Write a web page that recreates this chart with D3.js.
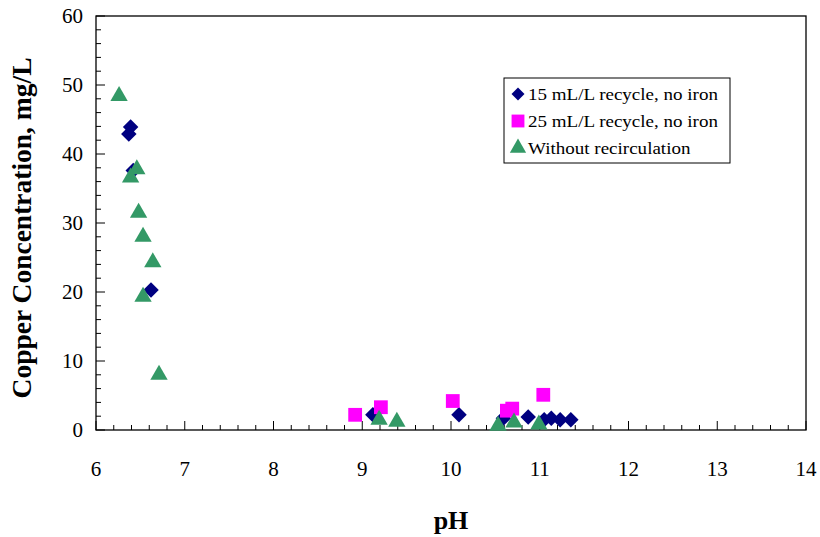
<!DOCTYPE html>
<html>
<head>
<meta charset="utf-8">
<script src="https://cdn.jsdelivr.net/npm/d3@7.9.0/dist/d3.min.js"></script>
<style>
  body { margin: 0; background: #fff; }
  svg { font-family: "Liberation Serif", "Times New Roman", serif; }
</style>
</head>
<body>
<svg width="820" height="537"></svg>
<script>
// 15 mL/L recycle, no iron
const ph15 = [6.39, 6.37, 6.42, 6.62, 9.12, 10.09, 10.59, 10.87, 11.05, 11.13, 11.23, 11.35]
const cu15 = [43.9, 42.9, 37.6, 20.3, 2.2, 2.2, 1.7, 1.9, 1.5, 1.7, 1.5, 1.5]
// 25 mL/L recycle, no iron
const ph25 = [8.92, 9.21, 10.02, 10.63, 10.69, 11.04]
const cu25 = [2.2, 3.3, 4.2, 2.8, 3.1, 5.1]
// Without recirculation
const phNo = [6.26, 6.46, 6.39, 6.48, 6.53, 6.64, 6.53, 6.71, 9.19, 9.39, 10.53, 10.71, 10.99]
const cuNo = [48.4, 37.8, 36.6, 31.5, 28.0, 24.3, 19.3, 8.0, 1.5, 1.2, 0.6, 1.1, 0.8]

const seriesNames = ['15 mL/L recycle, no iron', '25 mL/L recycle, no iron', 'Without recirculation']
const xTicks = [6, 7, 8, 9, 10, 11, 12, 13, 14]
const yTicks = [0, 10, 20, 30, 40, 50, 60]

const svg = d3.select('svg')
const margin = {left: 96, right: 14, top: 16, bottom: 107}
const W = 820, H = 537

const x = d3.scaleLinear().domain([6, 14]).range([margin.left, W - margin.right])
const y = d3.scaleLinear().domain([0, 60]).range([H - margin.bottom, margin.top])

// plot box
svg.append('rect')
    .attr('x', x(6)).attr('y', y(60))
    .attr('width', x(14) - x(6)).attr('height', y(0) - y(60))
    .attr('fill', 'none').attr('stroke', '#000').attr('stroke-width', 1.3)

// ticks point inward, major ones longer
let minorX = d3.range(6, 14.001, 0.2)
svg.append('g').selectAll('line').data(minorX).join('line')
    .attr('x1', d => x(d)).attr('x2', d => x(d))
    .attr('y1', y(0)).attr('y2', d => y(0) - (Math.abs(d - Math.round(d)) < 1e-6 ? 9 : 5))
    .attr('stroke', '#000')
let minorY = d3.range(0, 60.001, 2)
svg.append('g').selectAll('line').data(minorY).join('line')
    .attr('y1', d => y(d)).attr('y2', d => y(d))
    .attr('x1', x(6)).attr('x2', d => x(6) + (d % 10 === 0 ? 9 : 5))
    .attr('stroke', '#000')

// tick labels
svg.append('g').selectAll('text').data(xTicks).join('text')
    .attr('x', d => x(d)).attr('y', y(0) + 46)
    .attr('text-anchor', 'middle').attr('font-size', 21)
    .text(d => d)
svg.append('g').selectAll('text').data(yTicks).join('text')
    .attr('x', x(6) - 13).attr('y', d => y(d) + 7)
    .attr('text-anchor', 'end').attr('font-size', 21)
    .text(d => d)

// axis titles
svg.append('text')
    .attr('x', (x(6) + x(14)) / 2).attr('y', 529)
    .attr('text-anchor', 'middle').attr('font-size', 26).attr('font-weight', 'bold')
    .text('pH')
svg.append('text')
    .attr('transform', `translate(31,228) rotate(-90)`)
    .attr('text-anchor', 'middle').attr('font-size', 27.5).attr('font-weight', 'bold')
    .text('Copper Concentration, mg/L')

// diamond = rotated square
const diamondPath = d3.symbol(d3.symbolSquare, 120)()
const squarePath = d3.symbol(d3.symbolSquare, 190)()
const trianglePath = d3.symbol(d3.symbolTriangle, 130)()

const series = [
    {xs: ph15, ys: cu15, path: diamondPath, color: '#000080', rot: 45},
    {xs: ph25, ys: cu25, path: squarePath, color: '#ff00ff', rot: 0},
    {xs: phNo, ys: cuNo, path: trianglePath, color: '#339966', rot: 0}
]

series.forEach(s => {
    svg.append('g').selectAll('path').data(d3.zip(s.xs, s.ys)).join('path')
        .attr('d', s.path)
        .attr('transform', d => `translate(${x(d[0])},${y(d[1])}) rotate(${s.rot})`)
        .attr('fill', s.color)
})

// legend
const lg = svg.append('g').attr('transform', 'translate(504,78)')
lg.append('rect').attr('width', 226).attr('height', 85)
    .attr('fill', '#fff').attr('stroke', '#000').attr('stroke-width', 1)
const legendPaths = [
    d3.symbol(d3.symbolSquare, 85)(),
    d3.symbol(d3.symbolSquare, 165)(),
    d3.symbol(d3.symbolTriangle, 115)()
]
seriesNames.forEach((name, i) => {
    const s = series[i]
    const cy = 16 + i * 27
    lg.append('path')
        .attr('d', legendPaths[i])
        .attr('transform', `translate(14,${cy}) rotate(${s.rot})`)
        .attr('fill', s.color)
    lg.append('text')
        .attr('transform', `translate(24,${cy + 6}) scale(1.12,1)`)
        .attr('font-size', 17).text(name)
})
</script>
</body>
</html>
